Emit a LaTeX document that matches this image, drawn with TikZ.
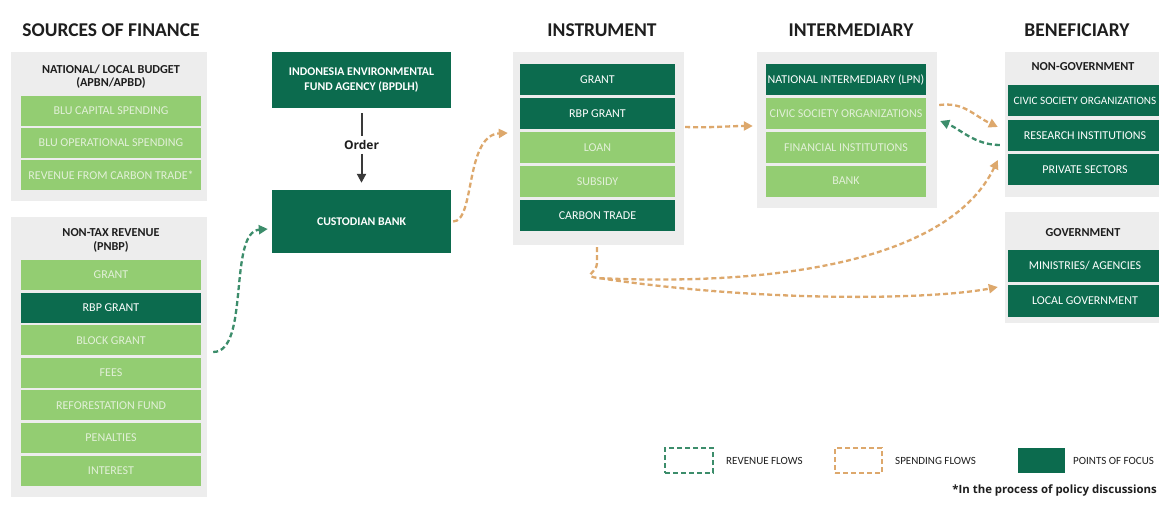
\documentclass[tikz,border=0pt]{standalone}
\usepackage{fontspec}
\setmainfont{Carlito}
\newfontfamily\notefont{Open Sans}
\usetikzlibrary{arrows.meta,calc}

\definecolor{dkgreen}{RGB}{12,107,78}
\definecolor{ltgreen}{RGB}{147,205,114}
\definecolor{panelgray}{RGB}{237,237,237}
\definecolor{lttext}{RGB}{226,240,216}
\definecolor{headtext}{RGB}{30,30,30}
\definecolor{spendcol}{RGB}{221,168,108}
\definecolor{revcol}{RGB}{60,141,107}
\definecolor{ordercol}{RGB}{58,58,58}

\tikzset{
  panel/.style={rectangle, fill=panelgray, draw=none, inner sep=0pt},
  rowbase/.style={rectangle, inner sep=0pt, font=\fontsize{12}{14}\selectfont},
  drow/.style={rowbase, fill=dkgreen, text=white},
  lrow/.style={rowbase, fill=ltgreen, text=lttext},
  head/.style={font=\bfseries\fontsize{12.2}{13.5}\selectfont, text=headtext, align=center, inner sep=0pt},
  coltitle/.style={font=\bfseries\fontsize{19.5}{22}\selectfont, text=headtext, inner sep=0pt},
  bigbox/.style={rectangle, fill=dkgreen, text=white, inner sep=0pt, align=center,
    font=\bfseries\fontsize{11.8}{15}\selectfont},
  flow/.style={line width=2.3pt, dash pattern=on 5pt off 3pt,
    -{Triangle[length=9pt,width=9pt]}},
  spend/.style={flow, draw=spendcol},
  revenue/.style={flow, draw=revcol},
  legtext/.style={font=\fontsize{11}{12}\selectfont, text=headtext, anchor=west, inner sep=0pt},
}

\begin{document}
\begin{tikzpicture}[x=1pt, y=-1pt]
\useasboundingbox (0,0) rectangle (1159,505);
\clip (0,0) rectangle (1159,505);
\fill[white] (0,0) rectangle (1159,505);

% ---- column titles ----
\node[coltitle] (t1) at (111,30) {SOURCES OF FINANCE};
\node[coltitle] (t2) at (602,30) {INSTRUMENT};
\node[coltitle] (t3) at (851,30) {INTERMEDIARY};
\node[coltitle] (t4) at (1077,30) {BENEFICIARY};

% ---- sources of finance: national / local budget ----
\node[panel, minimum width=196pt, minimum height=149pt] (nlb) at (109,126.5) {};
\node[head] (nlbh) at (111,76.5) {NATIONAL/ LOCAL BUDGET\\(APBN/APBD)};
\foreach \i/\txt in {0/BLU CAPITAL SPENDING, 1/BLU OPERATIONAL SPENDING, 2/REVENUE FROM CARBON TRADE*}
  \node[lrow, minimum width=180pt, minimum height=30pt] (nlb\i) at (111,{111+32*\i}) {\txt};

% ---- sources of finance: non-tax revenue ----
\node[panel, minimum width=196pt, minimum height=280pt] (pnbp) at (109,357) {};
\node[head] (pnbph) at (111,240.5) {NON-TAX REVENUE\\(PNBP)};
\foreach \i/\txt/\st in {0/GRANT/lrow, 1/RBP GRANT/drow, 2/BLOCK GRANT/lrow, 3/FEES/lrow,
    4/REFORESTATION FUND/lrow, 5/PENALTIES/lrow, 6/INTEREST/lrow}
  \node[\st, minimum width=180pt, minimum height=30pt] (pnbp\i) at (111,{275+32.6*\i}) {\txt};

% ---- fund agency and custodian bank ----
\node[bigbox, minimum width=179pt, minimum height=56pt] (bpdlh) at (361.5,80)
  {INDONESIA ENVIRONMENTAL\\FUND AGENCY (BPDLH)};
\node[bigbox, minimum width=179pt, minimum height=63pt] (cust) at (361.5,221.5) {CUSTODIAN BANK};
\node[font=\notefont\bfseries\fontsize{12}{14}\selectfont, text=headtext, inner sep=1pt] (order) at (361.5,145) {Order};
\draw[ordercol, line width=2pt, shorten <=5pt, shorten >=3pt] (bpdlh.south) -- (order.north);
\draw[ordercol, line width=2pt, shorten <=3pt, shorten >=7pt, -{Triangle[length=9pt,width=9pt]}]
  (order.south) -- (cust.north);

% ---- instrument ----
\node[panel, minimum width=171pt, minimum height=193pt] (instr) at (598.5,148.5) {};
\foreach \i/\txt/\st in {0/GRANT/drow, 1/RBP GRANT/drow, 2/LOAN/lrow, 3/SUBSIDY/lrow, 4/CARBON TRADE/drow}
  \node[\st, minimum width=155pt, minimum height=31pt] (instr\i) at (597.5,{80+34*\i}) {\txt};

% ---- intermediary ----
\node[panel, minimum width=180pt, minimum height=156pt] (inter) at (847,130) {};
\foreach \i/\txt/\st in {0/NATIONAL INTERMEDIARY (LPN)/drow, 1/CIVIC SOCIETY ORGANIZATIONS/lrow,
    2/FINANCIAL INSTITUTIONS/lrow, 3/BANK/lrow}
  \node[\st, minimum width=160pt, minimum height=31pt] (inter\i) at (846,{80+33.7*\i}) {\txt};

% ---- beneficiary ----
\node[panel, minimum width=170pt, minimum height=145pt] (ngov) at (1090,124.5) {};
\node[head] (ngovh) at (1083,67) {NON-GOVERNMENT};
\node[drow, minimum width=154pt, minimum height=31pt, font=\fontsize{11.2}{13}\selectfont]
  (ngov0) at (1085,101) {CIVIC SOCIETY ORGANIZATIONS};
\foreach \i/\txt in {1/RESEARCH INSTITUTIONS, 2/PRIVATE SECTORS}
  \node[drow, minimum width=154pt, minimum height=31pt] (ngov\i) at (1085,{101+34.3*\i}) {\txt};

\node[panel, minimum width=170pt, minimum height=111pt] (gov) at (1090,267.5) {};
\node[head] (govh) at (1083,233) {GOVERNMENT};
\foreach \i/\txt in {0/{MINISTRIES/ AGENCIES}, 1/{LOCAL GOVERNMENT}}
  \node[drow, minimum width=154pt, minimum height=32pt] (gov\i) at (1085,{265.5+35*\i}) {\txt};

% ---- flows ----
\draw[revenue] ([xshift=6pt,yshift=5pt]pnbp.east)
  .. controls +(37,0) and +(-40,3) .. ([xshift=-4pt,yshift=-7.5pt]cust.west);
\draw[spend] ([xshift=2pt]cust.east)
  .. controls +(22,0) and +(-43,2) .. ([xshift=-5pt,yshift=15.5pt]instr.west);
\draw[spend] ([xshift=1pt,yshift=21.5pt]instr.east)
  .. controls +(25,1) and +(-25,0) .. ([xshift=-4pt,yshift=4pt]inter.west);
\draw[spend] ([xshift=2pt,yshift=25pt]inter.east)
  .. controls +(25,-3) and +(-25,-12) .. ([xshift=-7pt,yshift=-2.5pt]ngov.west);
\draw[revenue] ([xshift=-5pt,yshift=-20.5pt]ngov.west)
  .. controls +(-25,0) and +(20,8) .. ([xshift=3pt,yshift=9pt]inter.east);
\coordinate (split) at ($(instr.south)+(1.5,33)$);
\draw[spend] ([xshift=-1.5pt,yshift=-2pt]instr.south) -- ++(0,16)
  .. controls +(0,10) and +(-20,-2) .. (split)
  .. controls +(180,8) and +(-48,100) .. ([xshift=-7pt,yshift=-35.5pt]ngov.west);
\draw[spend] (split)
  .. controls +(160,24) and +(-68,13) .. ([xshift=-7pt,yshift=-19.5pt]gov.west);

% ---- legend ----
\node[draw=revcol, line width=1.5pt, dash pattern=on 5pt off 3pt, minimum width=48pt,
  minimum height=25pt, inner sep=0pt] (legrev) at (689,460.5) {};
\node[legtext] (legrevt) at (726,461) {REVENUE FLOWS};
\node[draw=spendcol, line width=1.5pt, dash pattern=on 5pt off 3pt, minimum width=47pt,
  minimum height=25pt, inner sep=0pt] (legsp) at (858.5,460.5) {};
\node[legtext] (legspt) at (895,461) {SPENDING FLOWS};
\node[fill=dkgreen, minimum width=47pt, minimum height=25pt, inner sep=0pt] (legfoc) at (1041.5,460.5) {};
\node[legtext] (legfoct) at (1073,461) {POINTS OF FOCUS};
\node[font=\notefont\bfseries\fontsize{11.4}{13}\selectfont, text=headtext, anchor=east, inner sep=0pt]
  (note) at (1157,491) {*In the process of policy discussions};
\end{tikzpicture}
\end{document}
